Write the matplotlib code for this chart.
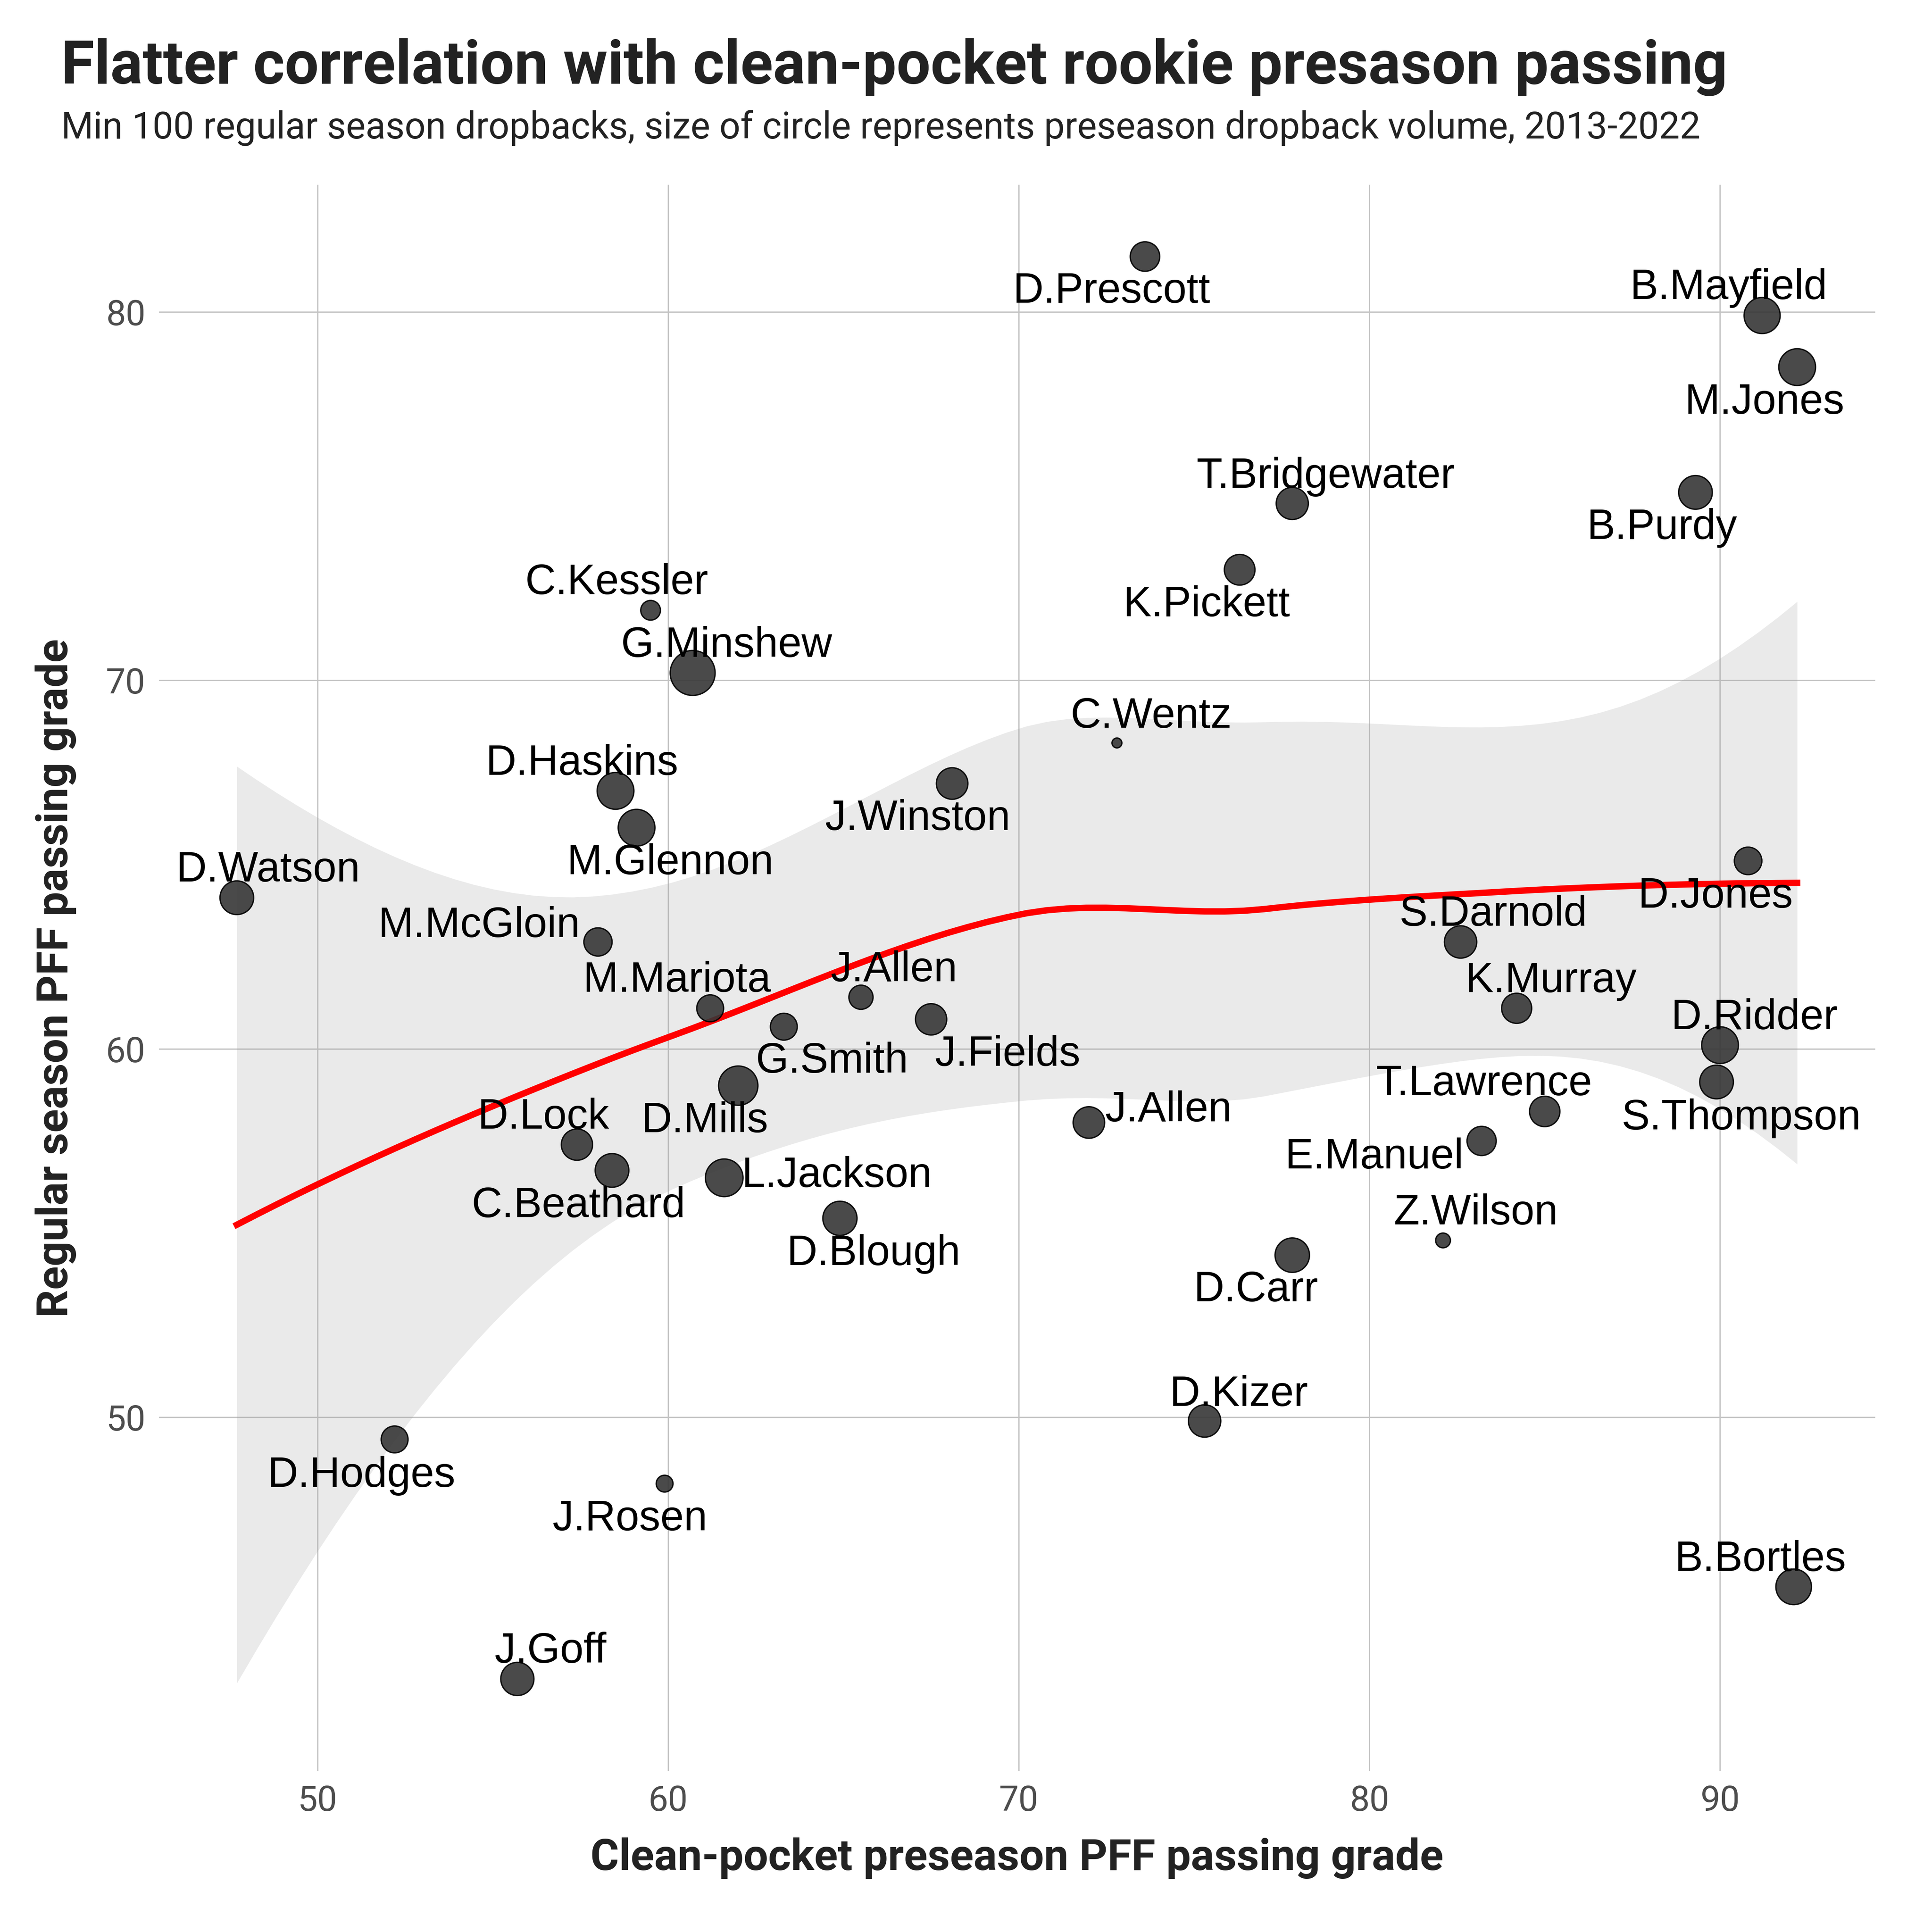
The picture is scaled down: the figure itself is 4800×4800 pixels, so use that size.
import numpy as np
import matplotlib
matplotlib.use('Agg')
import matplotlib.pyplot as plt

# rookie QBs: clean-pocket preseason grade vs regular season grade
players = ['D.Prescott', 'B.Mayfield', 'M.Jones', 'T.Bridgewater', 'B.Purdy',
           'K.Pickett', 'C.Kessler', 'G.Minshew', 'C.Wentz', 'J.Winston',
           'D.Haskins', 'M.Glennon', 'D.Watson', 'D.Jones', 'M.McGloin',
           'S.Darnold', 'J.Allen', 'M.Mariota', 'G.Smith', 'D.Mills',
           'J.Fields', 'K.Murray', 'D.Ridder', 'S.Thompson', 'T.Lawrence',
           'E.Manuel', 'J.Allen', 'D.Lock', 'C.Beathard', 'L.Jackson',
           'D.Blough', 'Z.Wilson', 'D.Carr', 'D.Kizer', 'D.Hodges',
           'J.Rosen', 'B.Bortles', 'J.Goff']
preseason = [73.6, 91.2, 92.2, 77.8, 89.3,
             76.3, 59.5, 60.7, 72.8, 68.1,
             58.5, 59.1, 47.7, 90.8, 58.0,
             82.6, 65.5, 61.2, 63.3, 62.0,
             67.5, 84.2, 90.0, 89.9, 85.0,
             83.2, 72.0, 57.4, 58.4, 61.6,
             64.9, 82.1, 77.8, 75.3, 52.2,
             59.9, 92.1, 55.7]
regular = [81.5, 79.9, 78.5, 74.8, 75.1,
           73.0, 71.9, 70.2, 68.3, 67.2,
           67.0, 66.0, 64.1, 65.1, 62.9,
           62.9, 61.4, 61.1, 60.6, 59.0,
           60.8, 61.1, 60.1, 59.1, 58.3,
           57.5, 58.0, 57.4, 56.7, 56.5,
           55.4, 54.8, 54.4, 49.9, 49.4,
           48.2, 45.4, 42.9]
dropbacks = [40, 65, 68, 49, 55,
             44, 16, 110, 8, 47,
             68, 68, 55, 34, 36,
             50, 25, 32, 32, 80,
             46, 42, 68, 55, 43,
             39, 47, 46, 55, 72,
             57, 10, 58, 50, 32,
             12, 63, 53]

# label offsets (points) relative to each point, like ggrepel placed them
label_off = [(-20, -27.6), (-20, 9.8), (-19.4, -27.8), (20, 9.4), (-20, -27.8),
             (-19.6, -27.8), (-20.2, 9.6), (20.2, 9.6), (20.4, 9.1), (-20.6, -27.8),
             (-20, 9.6), (20, -27.8), (18.7, 9.6), (-19.4, -27.8), (-70.8, 2.9),
             (19.4, 9.6), (19.7, 9.4), (-19.7, 9.8), (28.7, -27.4), (-19.9, -27.8),
             (45.5, -27.6), (20.4, 9.6), (20.4, 9.4), (14.6, -28.3), (-36.2, 9.6),
             (-64.1, -16.3), (47.5, 0.7), (-20, 9.6), (-20, -27.8), (67.2, -5.5),
             (20, -27.8), (19.7, 9.6), (-21.6, -27.6), (20.4, 9.1), (-19.9, -28.3),
             (-20.6, -27.8), (-19.9, 9.4), (19.7, 9.6)]

x = np.array(preseason)
y = np.array(regular)
SPAN = 1.2


def local_rows(xd, x0, span=SPAN):
    # local quadratic, tricube weights -> rows for value and slope at x0
    n = len(xd)
    d = np.abs(xd - x0)
    if span <= 1:
        h = np.sort(d)[int(np.floor(n * span)) - 1]
    else:
        h = d.max() * span
    w = np.clip(1 - (d / h) ** 3, 0, None) ** 3
    Xc = np.column_stack([np.ones(n), xd - x0, (xd - x0) ** 2])
    A = Xc.T @ (w[:, None] * Xc)
    B = np.linalg.solve(A, Xc.T * w)
    return B[0], B[1]


def kd_vertices(xd, fc):
    xs = np.sort(xd)
    mu = 0.005 * (xs[-1] - xs[0])
    verts = [xs[0] - mu, xs[-1] + mu]

    def split(lo, hi):
        if hi - lo + 1 <= fc:
            return
        m = (lo + hi) // 2
        verts.append((xs[m] + xs[m + 1]) / 2)
        split(lo, m)
        split(m + 1, hi)

    split(0, len(xs) - 1)
    return np.array(sorted(verts))


# loess with interpolated surface (vertex values + slopes, cubic Hermite)
verts = kd_vertices(x, int(np.floor(len(x) * SPAN * 0.2)))
VR, SR = zip(*[local_rows(x, vx) for vx in verts])
VR = np.array(VR)
SR = np.array(SR)


def interp_rows(pts):
    rows = []
    for g in pts:
        k = min(max(np.searchsorted(verts, g) - 1, 0), len(verts) - 2)
        hh = verts[k + 1] - verts[k]
        t = (g - verts[k]) / hh
        h00 = 2 * t**3 - 3 * t**2 + 1
        h10 = t**3 - 2 * t**2 + t
        h01 = -2 * t**3 + 3 * t**2
        h11 = t**3 - t**2
        rows.append(h00 * VR[k] + h10 * hh * SR[k] + h01 * VR[k + 1] + h11 * hh * SR[k + 1])
    return np.array(rows)


grid = np.linspace(x.min(), x.max(), 80)
Ld = interp_rows(x)
IL = np.eye(len(x)) - Ld
M = IL.T @ IL
delta1 = np.trace(M)
delta2 = np.trace(M @ M)
sigma = np.sqrt(np.sum((IL @ y) ** 2) / delta1)
Lg = interp_rows(grid)
fit = Lg @ y
se = sigma * np.sqrt(np.sum(Lg ** 2, axis=1))
df = delta1 ** 2 / delta2
z = 1.959964
tq = (z + (z**3 + z) / 4 / df + (5*z**5 + 16*z**3 + 3*z) / 96 / df**2
      + (3*z**7 + 19*z**5 + 17*z**3 - 15*z) / 384 / df**3)
lo = fit - tq * se
hi = fit + tq * se

# point sizes from dropback volume (area scale)
v = np.array(dropbacks, dtype=float)
r = (v - v.min()) / (v.max() - v.min())
d_pt = 6.7 + 20.9 * np.sqrt(r)
sizes = (d_pt - 0.8) ** 2

fig = plt.figure(figsize=(16, 16), dpi=300)
ax = fig.add_axes([0.0822, 0.0833, 0.9706 - 0.0822, 0.9044 - 0.0833])

ax.fill_between(grid, lo, hi, color='#999999', alpha=0.2, linewidth=0, zorder=2)
ax.plot(grid, fit, color='#ff0000', linewidth=3.8, zorder=3)
ax.scatter(x, y, s=sizes, facecolor='#363636', edgecolor='black',
           linewidths=0.8, alpha=0.9, zorder=4)

for name, px, py, off in zip(players, x, y, label_off):
    ax.annotate(name, (px, py), xytext=off, textcoords='offset points',
                ha='center', va='baseline', fontsize=25.2,
                family='Liberation Sans', color='black', zorder=5)

xr = x.max() - x.min()
ax.set_xlim(x.min() - 0.05 * xr, x.max() + 0.05 * xr)
ax.set_ylim(40.4, 83.45)

ax.set_xticks([50, 60, 70, 80, 90])
ax.set_yticks([50, 60, 70, 80])
ax.grid(True, color='#c4c4c4', linewidth=0.8)
ax.set_axisbelow(True)
for sp in ax.spines.values():
    sp.set_visible(False)
ax.tick_params(length=0, labelsize=21, labelcolor='#4d4d4d', pad=8)
for lab in ax.get_xticklabels() + ax.get_yticklabels():
    lab.set_family('Roboto')

fig.text(0.5264, 0.0321, 'Clean-pocket preseason PFF passing grade', fontsize=26,
         family='Roboto', weight='bold', color='#222222', ha='center', va='baseline')
fig.text(0.0288, 0.4937, 'Regular season PFF passing grade', fontsize=26,
         family='Roboto', weight='bold', color='#222222', ha='center', va='center',
         rotation=90)

fig.text(0.0317, 0.9567, 'Flatter correlation with clean-pocket rookie presason passing',
         fontsize=36, family='Roboto', weight='bold', color='#222222', va='baseline')
fig.text(0.0317, 0.9283,
         'Min 100 regular season dropbacks, size of circle represents preseason dropback volume, 2013-2022',
         fontsize=22, family='Roboto', color='#222222', va='baseline')

fig.savefig('out.png', dpi=300, facecolor='white')
